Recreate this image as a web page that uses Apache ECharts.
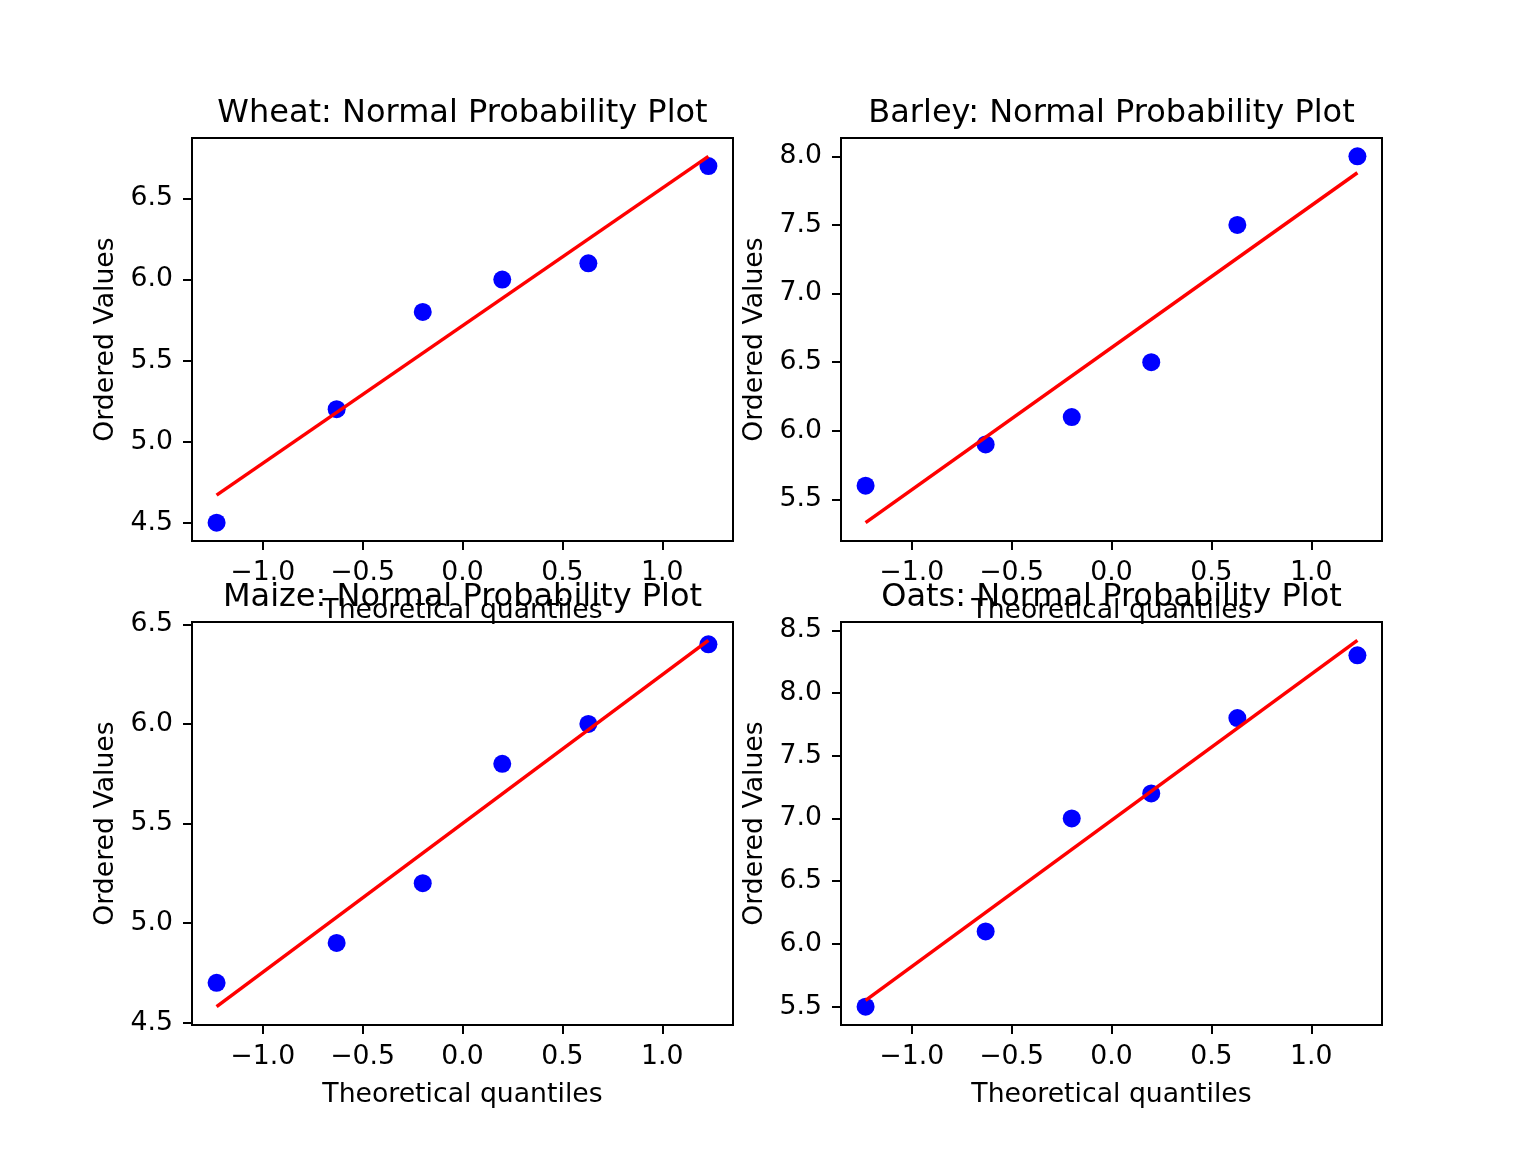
<!DOCTYPE html>
<html>
<head>
<meta charset="utf-8">
<script src="https://cdn.jsdelivr.net/npm/echarts@6/dist/echarts.min.js"></script>
</head>
<body style="margin:0;background:#fff">
<div id="main" style="width:1536px;height:1152px;"></div>
<script type="text/javascript">
// data
var crops = ['Wheat', 'Barley', 'Maize', 'Oats'];
var quantiles = [-1.231, -0.630, -0.199, 0.199, 0.630, 1.231];
var wheat = [4.5, 5.2, 5.8, 6.0, 6.1, 6.7];
var barley = [5.6, 5.9, 6.1, 6.5, 7.5, 8.0];
var maize = [4.7, 4.9, 5.2, 5.8, 6.0, 6.4];
var oats = [5.5, 6.1, 7.0, 7.2, 7.8, 8.3];
// fitted line, value at first and last quantile
var wheatFit = [4.67, 6.76];
var barleyFit = [5.33, 7.88];
var maizeFit = [4.58, 6.42];
var oatsFit = [5.55, 8.42];
// tick labels
var xTicks = [-1.0, -0.5, 0.0, 0.5, 1.0];
var wheatTicks = [4.5, 5.0, 5.5, 6.0, 6.5];
var barleyTicks = [5.5, 6.0, 6.5, 7.0, 7.5, 8.0];
var maizeTicks = [4.5, 5.0, 5.5, 6.0, 6.5];
var oatsTicks = [5.5, 6.0, 6.5, 7.0, 7.5, 8.0, 8.5];

var values = [wheat, barley, maize, oats];
var fits = [wheatFit, barleyFit, maizeFit, oatsFit];
var yTicks = [wheatTicks, barleyTicks, maizeTicks, oatsTicks];

var myChart = echarts.init(document.getElementById('main'));
var FONT = 'DejaVu Sans';
var lefts = [192, 841];
var tops = [138, 622];
var W = 541, H = 403;

var fmt = function (v) {
    return v.toFixed(1).replace('-', '\u2212');
};
// matplotlib style 5% margins
var lim = function (arr) {
    var lo = Math.min.apply(null, arr), hi = Math.max.apply(null, arr);
    var m = (hi - lo) * 0.05;
    return [lo - m, hi + m];
};

var grids = [], xAxes = [], yAxes = [], series = [], titles = [];
var xl = lim(quantiles);
for (var i = 0; i < 4; i++) {
    var gl = lefts[i % 2], gt = tops[Math.floor(i / 2)];
    grids.push({left: gl, top: gt, width: W, height: H, show: true,
        borderColor: '#000', borderWidth: 2, backgroundColor: 'transparent'});
    titles.push({
        text: crops[i] + ': Normal Probability Plot',
        left: gl + W / 2, top: gt - 40, textAlign: 'center', padding: 0,
        textStyle: {fontFamily: FONT, fontSize: 32, fontWeight: 'normal', color: '#000'}
    });
    xAxes.push({
        type: 'value', gridIndex: i, min: xl[0], max: xl[1],
        name: 'Theoretical quantiles', nameLocation: 'middle', nameGap: 57,
        nameTextStyle: {fontFamily: FONT, fontSize: 26.7, color: '#000'},
        axisLine: {show: false, onZero: false},
        splitLine: {show: false},
        axisTick: {show: true, inside: false, length: 9, customValues: xTicks,
            lineStyle: {color: '#000', width: 2}},
        axisLabel: {customValues: xTicks, formatter: fmt, margin: 19,
            fontFamily: FONT, fontSize: 26.7, color: '#000'}
    });
    var yl = lim(values[i].concat(fits[i]));
    yAxes.push({
        type: 'value', gridIndex: i, min: yl[0], max: yl[1],
        name: 'Ordered Values', nameLocation: 'middle', nameGap: 72,
        nameTextStyle: {fontFamily: FONT, fontSize: 26.7, color: '#000'},
        axisLine: {show: false, onZero: false},
        splitLine: {show: false},
        axisTick: {show: true, inside: false, length: 9, customValues: yTicks[i],
            lineStyle: {color: '#000', width: 2}},
        axisLabel: {customValues: yTicks[i], formatter: fmt, margin: 19,
            fontFamily: FONT, fontSize: 26.7, color: '#000'}
    });
    var pts = [];
    for (var j = 0; j < quantiles.length; j++) {
        pts.push([quantiles[j], values[i][j]]);
    }
    series.push({
        type: 'scatter', xAxisIndex: i, yAxisIndex: i, data: pts,
        symbolSize: 18, itemStyle: {color: '#0000ff', opacity: 1}, z: 2
    });
    series.push({
        type: 'line', xAxisIndex: i, yAxisIndex: i, showSymbol: false,
        data: [[quantiles[0], fits[i][0]], [quantiles[quantiles.length - 1], fits[i][1]]],
        lineStyle: {color: '#ff0000', width: 3.5}, z: 3
    });
}

var option = {
    backgroundColor: '#fff',
    animation: false,
    title: titles,
    grid: grids,
    xAxis: xAxes,
    yAxis: yAxes,
    series: series
};
myChart.setOption(option);
</script>
</body>
</html>
